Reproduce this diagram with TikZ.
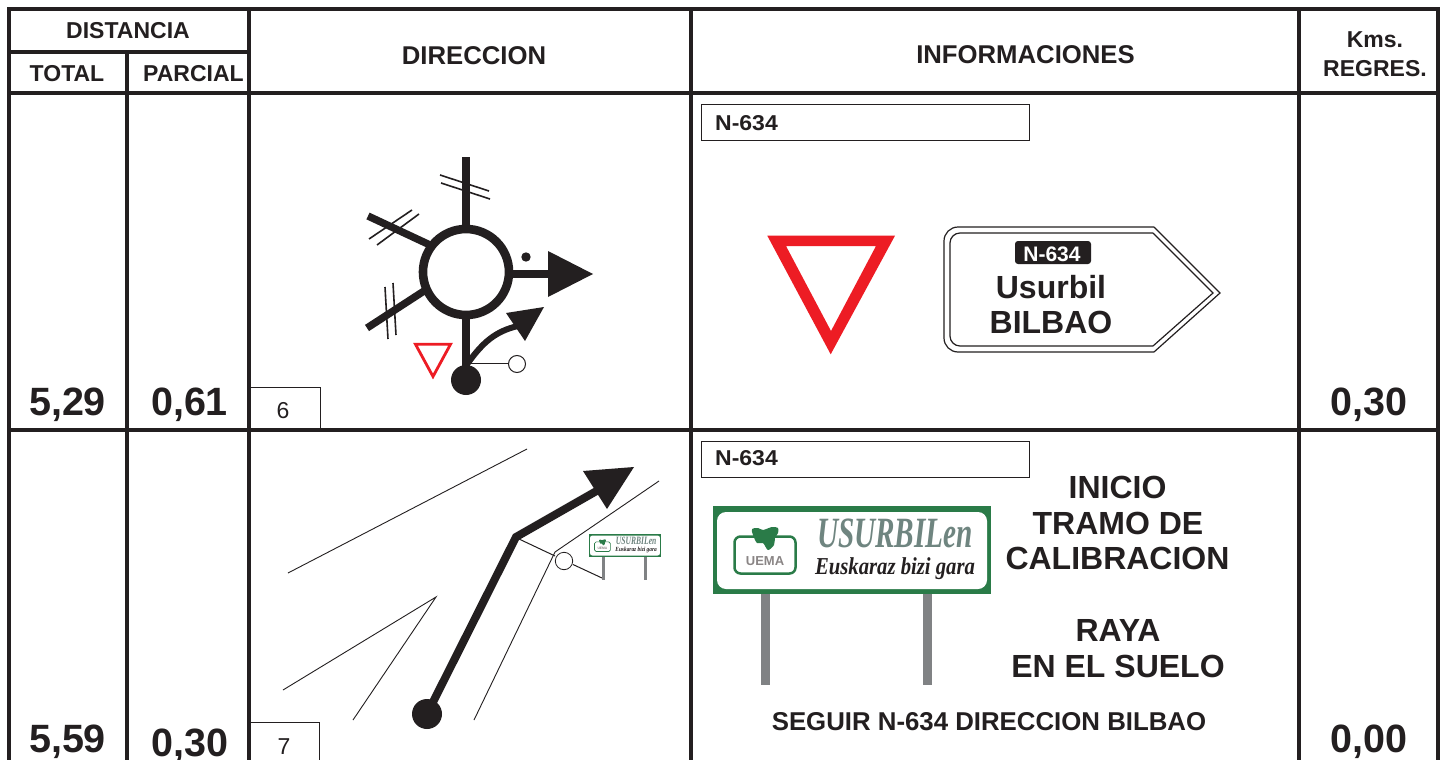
\documentclass[tikz,border=0pt]{standalone}
\usepackage{fontspec}
\usepackage{graphicx}
\setmainfont{Liberation Sans}
\newfontfamily\scr{Liberation Serif}
\definecolor{ink}{HTML}{231F20}
\definecolor{signred}{HTML}{ED1C24}
\definecolor{signgreen}{HTML}{2A7B48}
\definecolor{signgrey}{HTML}{6F8580}
\definecolor{postgrey}{HTML}{808284}
\definecolor{uemagrey}{HTML}{8A8585}
\tikzset{
  grid/.style={draw=ink,line width=2pt},
  road/.style={draw=ink,line width=3.7pt},
  cross/.style={draw=ink,line width=0.8pt},
  thin/.style={draw=ink,line width=0.45pt},
  txt/.style={anchor=base,inner sep=0pt,text=ink,font=\bfseries},
}
\newcommand{\T}[6][]{\node[txt,#1] (#2) at (#3,#4) {\pgfmathsetmacro\fsz{#5/2}\fontsize{\fsz}{\fsz}\selectfont #6};}
\newcommand{\greensign}[4]{% x, y, scale, prefix
  \begin{scope}[shift={(#1,#2)},scale=#3,transform shape]
  \begin{scope}[shift={(-713,-506)}]
    \fill[signgreen] (713,506) rectangle (991,594);
    \fill[white,rounded corners=#3*4.5pt] (717,512) rectangle (987,589);
    \draw[signgreen,fill=white,line width=#3*1.25pt,rounded corners=#3*3pt] (734.5,536.5) rectangle (795.5,573.5);
    \fill[signgreen] plot[smooth cycle,tension=0.5] coordinates {(752,529) (758,528) (763,530) (772,527) (778,528) (778,533) (775,538) (774,545) (768,550) (763,543) (757,543) (753,535)};
    \node[inner sep=0pt,text=uemagrey,font=\bfseries] (#4uema) at (765,561) {\fontsize{6.5}{7}\selectfont UEMA};
    \node[inner sep=0pt,text=signgrey] (#4town) at (895,533) {\resizebox*{78pt}{14.5pt}{\scr\bfseries\itshape USURBILen}};
    \node[inner sep=0pt,text=ink] (#4slogan) at (895,569) {\resizebox*{80pt}{11pt}{\scr\bfseries\itshape Euskaraz bizi gara}};
  \end{scope}
  \end{scope}
}
\begin{document}
\begin{tikzpicture}[x=0.5pt,y=-0.5pt]
\useasboundingbox (0,0) rectangle (1442,760);
\fill[white] (0,0) rectangle (1442,760);
% table
\draw[grid] (9,760) -- (9,9) -- (1438,9) -- (1438,760);
\draw[grid] (127,52) -- (127,760);
\draw[grid] (249,9) -- (249,760);
\draw[grid] (691,9) -- (691,760);
\draw[grid] (1299,9) -- (1299,760);
\draw[grid] (9,52) -- (249,52);
\draw[grid] (9,93) -- (1438,93);
\draw[grid] (9,430) -- (1438,430);
% header
\T{h1}{128}{38.5}{23}{DISTANCIA}
\T{h2}{67}{81.5}{23}{TOTAL}
\T{h3}{193.5}{81}{23}{PARCIAL}
\T{h4}{474}{64}{25.7}{DIRECCION}
\T{h5}{1025.5}{63}{25.7}{INFORMACIONES}
\T{h6}{1375}{47}{23}{Kms.}
\T{h7}{1375}{76.5}{23}{REGRES.}
% numbers
\T{n1}{67.5}{415.5}{39.5}{5,29}
\T{n2}{189.5}{415}{39.5}{0,61}
\T{n3}{1369}{415}{39.5}{0,30}
\T{n4}{67.5}{752}{39.5}{5,59}
\T{n5}{190}{756}{39.5}{0,30}
\T{n6}{1369}{752}{39.5}{0,00}
% step boxes
\draw[thin] (251,387) -- (320,387) -- (320,430);
\draw[thin] (251,722) -- (319,722) -- (319,760);
\node[anchor=base,inner sep=0pt,text=ink] (s6) at (283,418) {\fontsize{11.5}{12}\selectfont 6};
\node[anchor=base,inner sep=0pt,text=ink] (s7) at (284,754) {\fontsize{11.5}{12}\selectfont 7};
% route boxes
\draw[thin] (701,104.5) rectangle (1029,140);
\draw[thin] (701,441) rectangle (1029,477);
\T{r1}{746.5}{130.5}{21.5}{\scalebox{1.07}[1]{N-634}}
\T{r2}{746.5}{465.5}{21.5}{\scalebox{1.07}[1]{N-634}}
% roundabout
\draw[road,line width=4.3pt] (466,272) circle (43);
\draw[road] (466,157) -- (466,226);
\draw[road] (368,216) -- (430,245);
\draw[road] (367,328) -- (424,291);
\draw[road] (512,274) -- (552,274);
\draw[road] (466,317) -- (466,373);
\fill[ink] (548,251) -- (593,274) -- (548,297) -- cycle;
\fill[ink] (526,257) circle (4.7);
\fill[ink] (466,380) circle (15);
\draw[cross] (440,175) -- (489,191);
\draw[cross] (441,183) -- (490,199);
\draw[cross] (369,239) -- (412,210);
\draw[cross] (377,245) -- (419,214);
\draw[cross] (385,287) -- (388,339);
\draw[cross] (393,283) -- (396,335);
\draw[road,line width=3pt] (468,363) .. controls (483,342) and (496,331) .. (518,326);
\fill[ink] (506,313) -- (544,307) -- (525,341) -- cycle;
\draw[ink,line width=0.6pt] (468,363.5) -- (508.5,363.5);
\node[circle,draw=ink,fill=white,line width=0.5pt,minimum size=8.5pt,inner sep=0pt] (rc1) at (517,364) {};
\draw[signred,line width=1.4pt,miter limit=10] (415.5,344.3) -- (450.5,344.3) -- (433,376.5) -- cycle;
% big yield
\fill[signred,even odd rule] (767.3,235.7) -- (895,235.7) -- (830.7,354.3) -- cycle (786,246) -- (831,331) -- (876,246) -- cycle;
% direction sign
\draw[ink,line width=0.6pt,rounded corners=7pt] (1154,227) -- (944,227) -- (944,352) -- (1154,352);
\draw[ink,line width=0.6pt] (1154,227) -- (1220,293) -- (1154,352);
\draw[ink,line width=0.6pt,rounded corners=5pt] (1153,233) -- (950,233) -- (950,346) -- (1153,346);
\draw[ink,line width=0.6pt] (1153,233) -- (1213,293) -- (1153,346);
\fill[ink,rounded corners=1.5pt] (1015,241) rectangle (1091,264);
\node[txt,text=white] (r3) at (1052,261) {\fontsize{10.5}{11}\selectfont N-634};
\T{d1}{1051}{298}{32}{Usurbil}
\T{d2}{1051}{333}{32}{BILBAO}
% row 2 road
\draw[thin] (527,449) -- (288,573);
\draw[thin] (283,690) -- (436,597) -- (353,720);
\draw[thin] (659,481) -- (555,552) -- (474,720);
\draw[road,line width=4pt] (427,714) -- (516,537) -- (607,485);
\fill[ink] (583,471) -- (634,467) -- (607,509) -- cycle;
\fill[ink] (427,714) circle (15);
\draw[ink,line width=0.5pt] (519,539) -- (555,556);
\draw[ink,line width=0.5pt] (573,564.5) -- (602,578);
\node[circle,draw=ink,fill=white,line width=0.4pt,minimum size=8.7pt,inner sep=0pt] (rc2) at (564,561) {};
% small sign
\fill[postgrey] (602,557) rectangle (604.5,580);
\fill[postgrey] (644,557) rectangle (646.5,580);
\greensign{589}{534}{0.259}{a}
% big sign
\fill[postgrey] (761,594) rectangle (770,685);
\fill[postgrey] (923,594) rectangle (932,685);
\greensign{713}{506}{1}{b}
% info
\T{i1}{1117.5}{498}{32}{INICIO}
\T{i2}{1118}{534}{32}{TRAMO DE}
\T{i3}{1117.5}{569}{32}{CALIBRACION}
\T{i4}{1118}{641}{32}{RAYA}
\T{i5}{1118}{677}{32}{EN EL SUELO}
\T{i6}{989}{730.5}{25.8}{SEGUIR N-634 DIRECCION BILBAO}
\end{tikzpicture}
\end{document}
